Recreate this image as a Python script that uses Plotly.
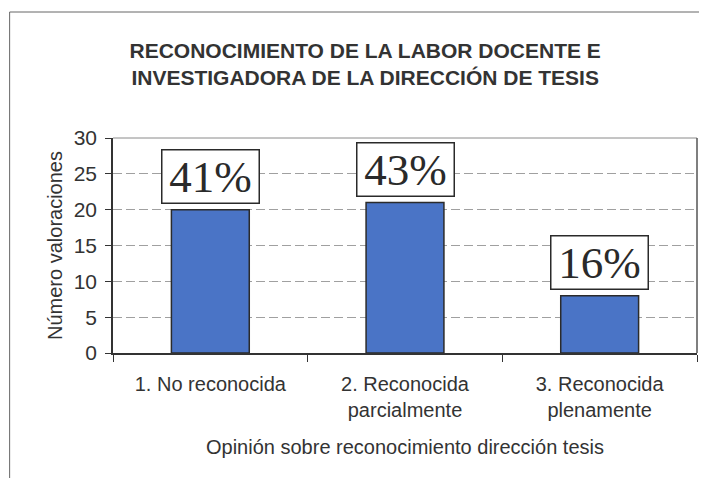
import plotly.graph_objects as go

categorias = ["1. No reconocida", "2. Reconocida<br>parcialmente", "3. Reconocida<br>plenamente"]
valoraciones = [20, 21, 8]
porcentajes = ["41%", "43%", "16%"]
y_ticks = [0, 5, 10, 15, 20, 25, 30]

titulo = "RECONOCIMIENTO DE LA LABOR DOCENTE E<br>INVESTIGADORA DE LA DIRECCIÓN DE TESIS"
eje_x = "Opinión sobre reconocimiento dirección tesis"
eje_y = "Número valoraciones"

fig = go.Figure()
fig.add_trace(go.Bar(
    x=categorias,
    y=valoraciones,
    marker=dict(color="#4a74c6", line=dict(color="#2b2b2b", width=1.5)),
    hoverinfo="x+y",
))

for cat, val, pct in zip(categorias, valoraciones, porcentajes):
    fig.add_annotation(
        x=cat, y=val, yanchor="bottom", yshift=6,
        text=pct, showarrow=False,
        font=dict(family="Liberation Serif", size=45, color="#2a2a2a"),
        bgcolor="white", bordercolor="#2a2a2a", borderwidth=1.5,
        width=96, height=52, borderpad=0,
    )

# the page body has an 8px margin, so the figure is 8px smaller than the window
fig.update_layout(
    width=699, height=470,
    margin=dict(l=105, r=10, t=130, b=125),
    paper_bgcolor="white", plot_bgcolor="white",
    font=dict(family="Liberation Sans, Arial", color="#333333"),
    title=dict(text=titulo, x=0.511, xanchor="center", y=0.894, yanchor="middle",
               font=dict(size=21, color="#333333", weight="bold")),
    bargap=0.6,
    showlegend=False,
)

fig.update_yaxes(
    range=[0, 30], tickvals=y_ticks, showgrid=True,
    gridcolor="#a0a0a0", griddash="9px,4px", gridwidth=1,
    showline=True, linecolor="#333333", linewidth=1.5,
    ticks="outside", ticklen=6, tickcolor="#333333",
    tickfont=dict(size=21), zeroline=False, ticklabelstandoff=4,
    title=dict(text=eje_y, font=dict(size=20), standoff=6),
)
fig.update_xaxes(
    tickson="boundaries", ticks="outside", ticklen=7, tickcolor="#333333",
    showline=True, linecolor="#333333", linewidth=1.5,
    tickfont=dict(size=20), ticklabelstandoff=12,
    title=dict(text=eje_x, font=dict(size=20), standoff=20),
)

# plot area border (top and right) and outer chart frame
fig.add_shape(type="line", xref="paper", yref="paper", x0=0, x1=1, y0=1, y1=1,
              line=dict(color="#8a8a8a", width=1))
fig.add_shape(type="line", xref="paper", yref="paper", x0=1, x1=1, y0=0, y1=1,
              line=dict(color="#555555", width=1.5))
fig.add_shape(type="line", xref="paper", yref="paper", x0=-0.177, x1=1.02, y0=1.586, y1=1.586,
              line=dict(color="#666666", width=1))
fig.add_shape(type="line", xref="paper", yref="paper", x0=-0.177, x1=-0.177, y0=1.586, y1=-0.6,
              line=dict(color="#666666", width=1))

fig.write_html("out.html")
